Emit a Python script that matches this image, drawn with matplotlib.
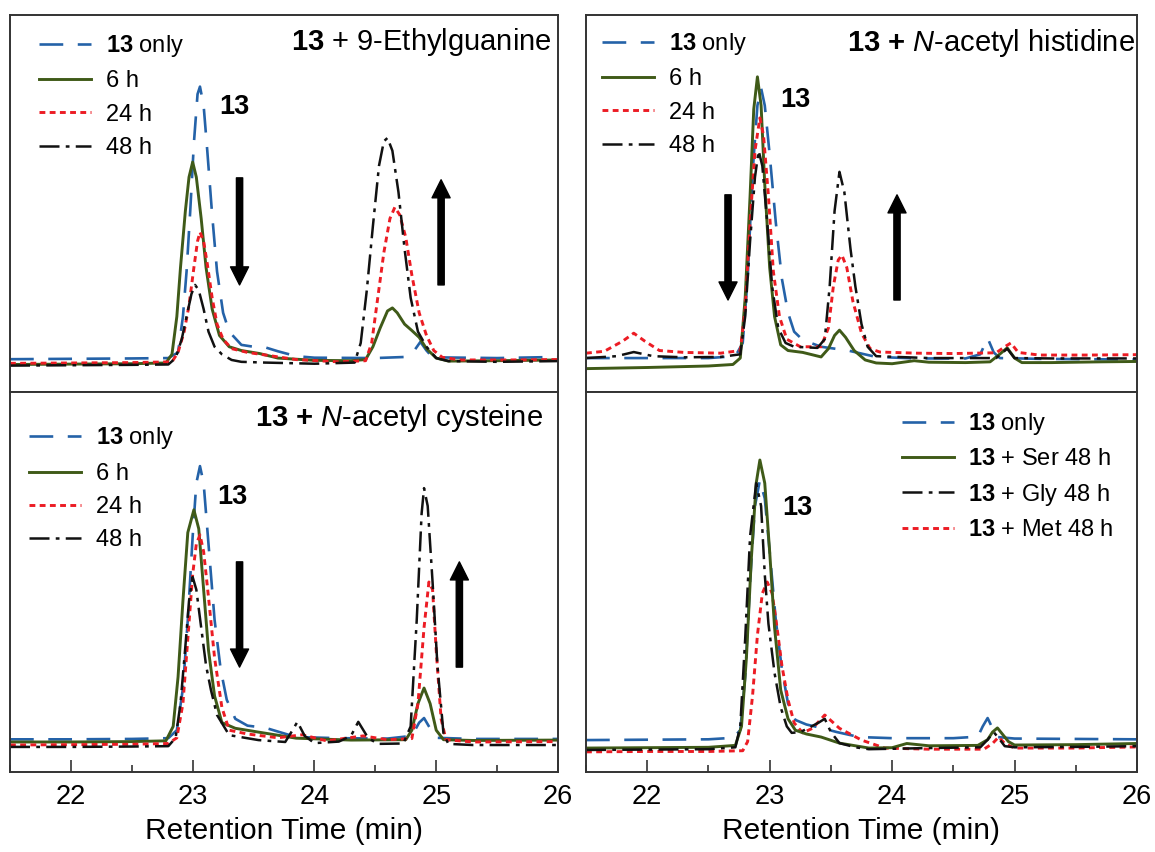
import matplotlib
matplotlib.use("Agg")
import matplotlib.pyplot as plt
from matplotlib.lines import Line2D
from matplotlib.ticker import MultipleLocator

plt.rcParams['font.family'] = ['Liberation Sans', 'DejaVu Sans']
plt.rcParams['mathtext.fontset'] = 'custom'
plt.rcParams['mathtext.rm'] = 'Liberation Sans'
plt.rcParams['mathtext.it'] = 'Liberation Sans:italic'
plt.rcParams['mathtext.bf'] = 'Liberation Sans:bold'

# ---------------- Panel A: 13 + 9-Ethylguanine ----------------
a_blue_t = [21.5, 22.0, 22.5, 22.8, 22.88, 22.92, 22.95, 22.98, 23.01, 23.04, 23.06, 23.09, 23.12, 23.16, 23.2, 23.25, 23.3, 23.4, 23.5, 23.6, 23.7, 23.85, 24.0, 24.5, 24.75, 24.82, 24.87, 24.92, 24.97, 25.5, 26.0]
a_blue_y = [8.7, 8.8, 8.9, 9.0, 10.5, 20, 32, 48, 66, 79, 81, 76, 64, 47, 32, 21, 16, 12.5, 12, 11.8, 10.8, 9.5, 9.1, 9.0, 9.3, 11, 13.3, 11, 9.2, 9.0, 9.3]
a_green_t = [21.5, 22.0, 22.5, 22.78, 22.83, 22.87, 22.9, 22.94, 22.97, 23.0, 23.03, 23.07, 23.11, 23.16, 23.22, 23.3, 23.4, 23.55, 23.7, 24.0, 24.3, 24.42, 24.48, 24.54, 24.6, 24.64, 24.68, 24.74, 24.8, 24.86, 24.92, 25.0, 25.1, 25.5, 26.0]
a_green_y = [7.3, 7.4, 7.5, 7.7, 10, 20, 33, 48, 57, 61, 57, 46, 33, 22, 15, 12, 11, 10.2, 9.0, 8.4, 8.3, 8.6, 12, 17, 21.5, 22.3, 21, 18, 16.3, 14.5, 11.5, 9.0, 8.2, 8.3, 8.5]
a_red_t = [21.5, 22.0, 22.5, 22.83, 22.88, 22.93, 22.97, 23.01, 23.04, 23.06, 23.09, 23.12, 23.16, 23.2, 23.25, 23.32, 23.45, 23.6, 23.85, 24.2, 24.42, 24.47, 24.52, 24.57, 24.62, 24.66, 24.7, 24.75, 24.8, 24.86, 24.92, 24.98, 25.05, 25.2, 25.6, 26.0]
a_red_y = [7.6, 7.7, 7.8, 8.0, 10.5, 16, 23, 33, 40, 42.4, 40, 34, 25, 18, 14, 11.5, 10.5, 9.8, 8.6, 8.0, 8.3, 13, 25, 37, 46, 49, 47, 41, 31, 21, 15, 11, 9.2, 8.5, 8.5, 8.6]
a_black_t = [21.5, 22.0, 22.5, 22.8, 22.86, 22.91, 22.95, 22.99, 23.02, 23.05, 23.09, 23.13, 23.18, 23.24, 23.32, 23.4, 23.6, 24.0, 24.33, 24.38, 24.43, 24.48, 24.53, 24.57, 24.6, 24.64, 24.69, 24.74, 24.79, 24.85, 24.92, 25.0, 25.1, 25.5, 26.0]
a_black_y = [7.0, 7.1, 7.2, 7.3, 9, 14, 20, 26, 28.4, 27, 22, 16, 12, 10, 8.5, 8.0, 7.8, 7.5, 7.8, 13, 27, 44, 60, 66.5, 67.4, 64, 53, 38, 25, 16, 12, 9, 8.2, 8.0, 8.2]

# ---------------- Panel B: 13 + N-acetyl histidine ----------------
b_blue_t = [21.5, 22.0, 22.5, 22.72, 22.78, 22.82, 22.86, 22.9, 22.93, 22.96, 23.0, 23.05, 23.1, 23.15, 23.2, 23.27, 23.42, 23.64, 23.87, 24.2, 24.6, 24.72, 24.78, 24.83, 24.88, 25.2, 25.6, 26.0]
b_blue_y = [9.0, 9.0, 9.0, 9.5, 13, 30, 58, 76, 80.6, 76, 63, 45, 30, 21, 16, 13.8, 12, 11, 9.3, 8.9, 8.9, 10, 14.3, 10.5, 9.0, 8.8, 8.7, 8.6]
b_green_t = [21.5, 22.0, 22.5, 22.7, 22.76, 22.8, 22.84, 22.87, 22.9, 22.93, 22.96, 23.0, 23.04, 23.09, 23.15, 23.27, 23.42, 23.48, 23.53, 23.57, 23.62, 23.69, 23.78, 23.87, 24.0, 24.18, 24.3, 24.6, 24.8, 24.87, 24.94, 25.0, 25.06, 25.3, 25.7, 26.0]
b_green_y = [6.2, 6.5, 6.9, 7.3, 9, 25, 52, 75, 83.6, 76, 55, 33, 20, 12.5, 11, 10.5, 9.3, 11.5, 15, 16.4, 14.5, 11, 8.5, 7.7, 7.5, 8.3, 7.9, 7.8, 8.0, 9.8, 11.7, 9, 7.8, 7.8, 8.0, 8.1]
b_red_t = [21.5, 21.65, 21.8, 21.89, 21.98, 22.1, 22.3, 22.6, 22.76, 22.8, 22.84, 22.88, 22.92, 22.95, 22.99, 23.03, 23.08, 23.14, 23.25, 23.42, 23.48, 23.52, 23.56, 23.59, 23.63, 23.68, 23.75, 23.82, 23.9, 24.2, 24.5, 24.85, 24.92, 24.97, 25.03, 25.2, 25.6, 26.0]
b_red_y = [10.3, 10.8, 13.5, 15.6, 13.5, 11, 10.5, 10.3, 11, 22, 45, 64, 72.7, 68, 52, 32, 20, 14, 12, 12, 17, 28, 35, 36.3, 33, 24, 15.6, 11.5, 10.6, 10.3, 10.2, 10.4, 12, 13, 10.5, 9.8, 9.8, 9.9]
b_black_t = [21.5, 21.75, 21.89, 22.05, 22.3, 22.6, 22.76, 22.8, 22.84, 22.88, 22.91, 22.94, 22.98, 23.02, 23.07, 23.13, 23.2, 23.39, 23.45, 23.49, 23.53, 23.57, 23.61, 23.66, 23.7, 23.75, 23.8, 23.87, 24.3, 24.85, 24.94, 25.0, 25.3, 26.0]
b_black_y = [9.0, 9.5, 10.6, 9.5, 9.2, 9.3, 10, 20, 40, 57, 64, 60, 45, 28, 17, 13, 12, 11.7, 14, 28, 48, 58.4, 53, 38, 28, 18, 12, 9.5, 9.0, 9.0, 11.5, 9.0, 8.9, 8.9]

# ---------------- Panel C: 13 + N-acetyl cysteine ----------------
c_blue_t = [21.5, 22.0, 22.5, 22.8, 22.87, 22.92, 22.96, 23.0, 23.03, 23.06, 23.09, 23.13, 23.18, 23.23, 23.28, 23.35, 23.45, 23.6, 23.85, 24.2, 24.6, 24.8, 24.86, 24.9, 24.94, 25.0, 25.3, 26.0]
c_blue_y = [8.6, 8.6, 8.7, 8.9, 11, 22, 40, 62, 76, 80.5, 76, 60, 40, 27, 19, 14, 12.2, 11.6, 9.2, 8.9, 8.8, 9.5, 13, 14.2, 12, 9, 8.7, 8.7]
c_green_t = [21.5, 22.0, 22.5, 22.78, 22.84, 22.88, 22.92, 22.96, 23.01, 23.05, 23.09, 23.13, 23.18, 23.24, 23.35, 23.54, 23.85, 24.3, 24.75, 24.8, 24.85, 24.9, 24.95, 25.0, 25.06, 25.3, 26.0]
c_green_y = [7.9, 7.9, 8.0, 8.2, 12, 25, 45, 63, 69, 64, 48, 32, 20, 13, 11.5, 10.5, 8.9, 8.4, 8.5, 11, 18, 22.1, 18, 11, 8.5, 8.3, 8.4]
c_red_t = [21.5, 22.0, 22.5, 22.8, 22.87, 22.92, 22.96, 23.0, 23.03, 23.06, 23.09, 23.13, 23.18, 23.24, 23.3, 23.45, 23.7, 23.9, 24.1, 24.4, 24.6, 24.8, 24.85, 24.9, 24.94, 24.97, 25.0, 25.04, 25.08, 25.3, 26.0]
c_red_y = [7.1, 7.2, 7.3, 7.5, 9, 18, 35, 52, 60, 62.4, 58, 46, 30, 17, 11, 10, 9, 9.8, 8.2, 9.5, 8.5, 8.8, 18, 38, 50, 48, 32, 14, 8.5, 7.9, 8.0]
c_black_t = [21.5, 22.0, 22.5, 22.8, 22.86, 22.9, 22.94, 22.97, 23.0, 23.03, 23.07, 23.11, 23.15, 23.2, 23.3, 23.54, 23.76, 23.82, 23.86, 23.92, 24.0, 24.2, 24.3, 24.36, 24.44, 24.52, 24.73, 24.79, 24.84, 24.88, 24.9, 24.93, 24.97, 25.01, 25.06, 25.1, 25.3, 26.0]
c_black_y = [6.6, 6.6, 6.7, 6.8, 9, 18, 33, 45, 51.3, 48, 38, 28, 21.6, 15, 9.7, 8.4, 7.9, 11, 13.2, 9.5, 7.6, 8.0, 9.5, 13.2, 9, 7.4, 7.5, 12, 40, 68, 74.7, 70, 50, 28, 10, 7.4, 7.1, 7.1]

# ---------------- Panel D: amino acid controls ----------------
d_blue_t = [21.5, 22.0, 22.5, 22.7, 22.76, 22.8, 22.84, 22.88, 22.92, 22.96, 23.0, 23.05, 23.1, 23.15, 23.21, 23.3, 23.42, 23.55, 23.73, 24.0, 24.5, 24.7, 24.74, 24.78, 24.82, 24.86, 25.0, 25.5, 26.0]
d_blue_y = [8.4, 8.5, 8.6, 9, 11, 25, 50, 70, 76.8, 72, 58, 40, 27, 18, 13.7, 12.5, 11.6, 10.5, 9.2, 8.9, 8.9, 9.3, 12, 14.2, 11.5, 9.2, 8.8, 8.7, 8.6]
d_ser_t = [21.5, 22.0, 22.5, 22.72, 22.77, 22.81, 22.85, 22.89, 22.92, 22.96, 23.0, 23.04, 23.09, 23.15, 23.21, 23.3, 23.42, 23.57, 23.81, 24.0, 24.12, 24.3, 24.7, 24.78, 24.82, 24.86, 24.9, 24.95, 25.0, 25.5, 26.0]
d_ser_y = [6.3, 6.4, 6.5, 7, 12, 30, 56, 76, 82.1, 76, 58, 38, 21.6, 14, 11, 10, 9.2, 7.6, 6.3, 6.4, 7.5, 6.9, 7.0, 8.5, 10.5, 11.6, 10, 8, 7.1, 7.2, 7.5]
d_gly_t = [21.5, 22.0, 22.5, 22.72, 22.76, 22.8, 22.84, 22.89, 22.93, 22.96, 22.99, 23.04, 23.09, 23.14, 23.18, 23.25, 23.33, 23.4, 23.45, 23.5, 23.57, 23.7, 23.81, 24.3, 24.72, 24.78, 24.83, 24.88, 24.92, 25.0, 25.5, 26.0]
d_gly_y = [5.8, 5.9, 6.0, 6.5, 12, 35, 62, 76, 70, 52, 39, 26, 17, 12, 10.3, 10.5, 11.8, 13, 14, 10.5, 7.6, 6.5, 6.0, 6.3, 6.5, 8.5, 10.5, 8.5, 6.8, 6.5, 6.6, 6.8]
d_met_t = [21.5, 22.0, 22.5, 22.78, 22.82, 22.86, 22.9, 22.94, 22.98, 23.02, 23.06, 23.1, 23.15, 23.2, 23.27, 23.35, 23.45, 23.57, 23.75, 23.94, 24.3, 24.75, 24.82, 24.87, 24.92, 25.0, 25.5, 26.0]
d_met_y = [5.3, 5.4, 5.4, 5.6, 8, 20, 36, 47, 50, 47, 38, 28, 19, 12.9, 10.3, 11.5, 15, 11.5, 8.4, 6.3, 6.0, 6.0, 7.5, 9.2, 7.5, 6.3, 6.3, 6.6]

legend_time = [r"$\mathbf{13}$ only", "6 h", "24 h", "48 h"]
legend_ctrl = [r"$\mathbf{13}$ only", r"$\mathbf{13}$ + Ser 48 h", r"$\mathbf{13}$ + Gly 48 h", r"$\mathbf{13}$ + Met 48 h"]
titles = [r"$\mathbf{13}$ + 9-Ethylguanine", r"$\mathbf{13}$ $\mathbf{+}$ $\mathit{N}$-acetyl histidine",
          r"$\mathbf{13}$ $\mathbf{+}$ $\mathit{N}$-acetyl cysteine", None]
x_ticks = [22, 23, 24, 25, 26]

BLUE = "#2462a8"
GREEN = "#3f5a18"
RED = "#ec1c24"
BLACK = "#111111"
st_blue = dict(color=BLUE, lw=1.9, ls=(0, (9, 5.5)))
st_green = dict(color=GREEN, lw=2.1, ls='-')
st_red = dict(color=RED, lw=2.1, ls=(0, (2.0, 1.5)))
st_black = dict(color=BLACK, lw=1.8, ls=(0, (8, 2.5, 1.5, 2.5)))

W, H = 1155, 852
fig = plt.figure(figsize=(W / 100, H / 100), dpi=100)

def fr(x0, y0, x1, y1):
    return [x0 / W, 1 - y1 / H, (x1 - x0) / W, (y1 - y0) / H]

axA = fig.add_axes(fr(10, 15, 558, 392))
axB = fig.add_axes(fr(586, 15, 1137, 392))
axC = fig.add_axes(fr(10, 392, 558, 772))
axD = fig.add_axes(fr(586, 392, 1137, 772))

def style(ax, bottom):
    ax.set_xlim(21.5, 26)
    ax.set_ylim(0, 100)
    ax.set_yticks([])
    for s in ax.spines.values():
        s.set_color('#333333')
        s.set_linewidth(1.4)
    if bottom:
        ax.set_xticks(x_ticks)
        ax.xaxis.set_minor_locator(MultipleLocator(0.5))
        ax.tick_params(axis='x', which='major', direction='in', length=9, width=1.2,
                       labelsize=19.5, pad=9, color='#333333')
        ax.tick_params(axis='x', which='minor', direction='in', length=5, width=1.2, color='#333333')
        ax.set_xlabel("Retention Time (min)", fontsize=21.5, labelpad=5)
    else:
        ax.set_xticks([])

panels = [
    (axA, [(a_blue_t, a_blue_y, st_blue), (a_green_t, a_green_y, st_green), (a_red_t, a_red_y, st_red), (a_black_t, a_black_y, st_black)]),
    (axB, [(b_blue_t, b_blue_y, st_blue), (b_green_t, b_green_y, st_green), (b_red_t, b_red_y, st_red), (b_black_t, b_black_y, st_black)]),
    (axC, [(c_blue_t, c_blue_y, st_blue), (c_green_t, c_green_y, st_green), (c_red_t, c_red_y, st_red), (c_black_t, c_black_y, st_black)]),
    (axD, [(d_blue_t, d_blue_y, st_blue), (d_met_t, d_met_y, st_red), (d_ser_t, d_ser_y, st_green), (d_gly_t, d_gly_y, st_black)]),
]
for ax, curves in panels:
    for t, y, st in curves:
        ax.plot(t, y, solid_capstyle='butt', dash_capstyle='butt', **st)

style(axA, False)
style(axB, False)
style(axC, True)
style(axD, True)

# legends
def make_legend(ax, labels, styles, anchor):
    handles = [Line2D([], [], **s) for s in styles]
    ax.legend(handles, labels, loc='upper left', bbox_to_anchor=anchor, frameon=False,
              fontsize=17, handlelength=2.2, handletextpad=0.62, labelspacing=0.48,
              borderpad=0, borderaxespad=0)

make_legend(axA, legend_time, [st_blue, st_green, st_red, st_black], (0.053, 0.952))
make_legend(axB, legend_time, [st_blue, st_green, st_red, st_black], (0.029, 0.958))
make_legend(axC, legend_time, [st_blue, st_green, st_red, st_black], (0.035, 0.912))
make_legend(axD, legend_ctrl, [st_blue, st_green, st_black, st_red], (0.573, 0.950))

# titles
axA.text(0.989, 0.928, titles[0], transform=axA.transAxes, ha='right', va='center', fontsize=21)
axB.text(0.996, 0.926, titles[1], transform=axB.transAxes, ha='right', va='center', fontsize=21)
axC.text(0.973, 0.932, titles[2], transform=axC.transAxes, ha='right', va='center', fontsize=21)

# peak labels
for ax, (x, y) in [(axA, (23.34, 75.6)), (axB, (23.21, 77.5)), (axC, (23.33, 72.4)), (axD, (23.23, 69.5))]:
    ax.text(x, y, "13", fontsize=19.5, fontweight='bold', ha='center', va='center')

# arrows
arrow_kw = dict(facecolor='black', edgecolor='black', width=4.5, headwidth=13, headlength=13, shrink=0)
for ax, x, ytail, ytip in [(axA, 23.385, 56.8, 28.4), (axA, 25.04, 28.4, 56.3),
                           (axB, 22.66, 52.3, 24.4), (axB, 24.04, 24.4, 52.3),
                           (axC, 23.385, 55.3, 27.6), (axC, 25.19, 27.6, 55.3)]:
    ax.annotate('', xy=(x, ytip), xytext=(x, ytail), arrowprops=arrow_kw)

fig.savefig("out.png", dpi=100)
